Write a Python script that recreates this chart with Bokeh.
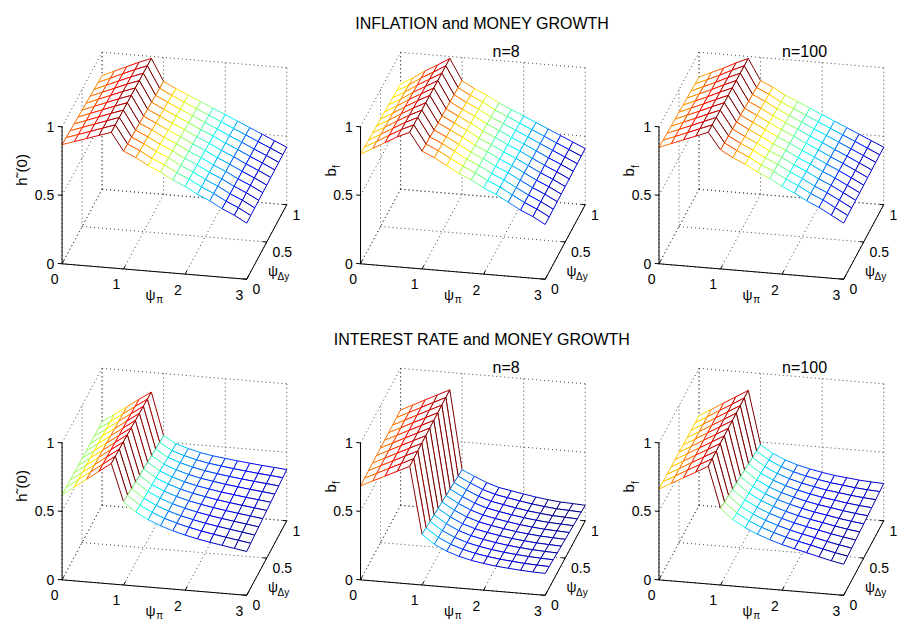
import numpy as np
from bokeh.plotting import figure
from bokeh.models import Range1d
from bokeh.core.properties import value
from bokeh.embed import file_html
from bokeh.resources import INLINE

# mesh grid
psi_pi = [0.0, 0.2, 0.4, 0.6, 0.8, 1.0, 1.2, 1.4, 1.6, 1.8, 2.0, 2.2, 2.4, 2.6, 2.8, 3.0]
psi_dy = [0.0, 0.1, 0.2, 0.3, 0.4, 0.5, 0.6, 0.7, 0.8, 0.9, 1.0]

# surface height along psi_pi, read at the front edge (psi_dy=0) and the back edge (psi_dy=1)
infl_h_front = [0.87, 0.90, 0.93, 0.96, 0.99, 0.86, 0.82, 0.77, 0.73, 0.68, 0.64, 0.59, 0.55, 0.50, 0.46, 0.41]
infl_h_back = [0.83, 0.87, 0.91, 0.95, 0.985, 0.825, 0.78, 0.74, 0.70, 0.66, 0.62, 0.58, 0.54, 0.50, 0.46, 0.42]
infl_n8_front = [0.80, 0.85, 0.90, 0.95, 0.99, 0.86, 0.82, 0.77, 0.72, 0.68, 0.63, 0.59, 0.54, 0.49, 0.45, 0.40]
infl_n8_back = [0.77, 0.82, 0.88, 0.93, 0.985, 0.83, 0.78, 0.74, 0.69, 0.65, 0.61, 0.57, 0.53, 0.49, 0.45, 0.41]
infl_n100_front = [0.85, 0.885, 0.92, 0.955, 0.99, 0.87, 0.82, 0.78, 0.73, 0.69, 0.64, 0.60, 0.55, 0.51, 0.46, 0.41]
infl_n100_back = [0.82, 0.86, 0.90, 0.945, 0.985, 0.83, 0.79, 0.74, 0.70, 0.66, 0.62, 0.58, 0.54, 0.50, 0.46, 0.42]

rate_h_front = [0.62, 0.685, 0.75, 0.815, 0.88, 0.607, 0.540, 0.492, 0.455, 0.426, 0.402, 0.382, 0.365, 0.350, 0.335, 0.320]
rate_h_back = [0.61, 0.672, 0.734, 0.796, 0.857, 0.545, 0.494, 0.467, 0.445, 0.429, 0.418, 0.407, 0.398, 0.389, 0.382, 0.374]
rate_n8_front = [0.686, 0.73, 0.773, 0.816, 0.859, 0.370, 0.305, 0.262, 0.232, 0.210, 0.195, 0.183, 0.175, 0.168, 0.163, 0.160]
rate_n8_back = [0.696, 0.74, 0.785, 0.829, 0.873, 0.297, 0.257, 0.218, 0.190, 0.174, 0.158, 0.143, 0.131, 0.122, 0.118, 0.113]
rate_n100_front = [0.663, 0.712, 0.761, 0.810, 0.859, 0.560, 0.484, 0.433, 0.393, 0.361, 0.333, 0.310, 0.289, 0.266, 0.245, 0.227]
rate_n100_back = [0.654, 0.708, 0.762, 0.815, 0.869, 0.479, 0.424, 0.384, 0.355, 0.333, 0.316, 0.301, 0.292, 0.282, 0.276, 0.272]

surfaces = [
    [(infl_h_front, infl_h_back), (infl_n8_front, infl_n8_back), (infl_n100_front, infl_n100_back)],
    [(rate_h_front, rate_h_back), (rate_n8_front, rate_n8_back), (rate_n100_front, rate_n100_back)],
]

row_titles = ["INFLATION and MONEY GROWTH", "INTEREST RATE and MONEY GROWTH"]
col_titles = ["", "n=8", "n=100"]
x_ticks = [0, 1, 2, 3]
x_tick_labels = ["0", "1", "2", "3"]
y_ticks = [0, 0.5, 1]
y_tick_labels = ["0", "0.5", "1"]
z_ticks = [0, 0.5, 1]
z_tick_labels = ["0", "0.5", "1"]

# screen projection of the 3D box (pixels per data unit)
EX = (63.0, 5.33)
EY = (41.0, -77.0)
EZ = (0.0, -141.5)
PAGE_H = 642
SCALE_X, SCALE_Y = 0.977, 0.968  # drawing squeezed a little so it fits 899x626
FONT = value("Liberation Sans")


def proj(o, x, y, z):
    px = o[0] + EX[0] * x + EY[0] * y + EZ[0] * z
    py = o[1] + EX[1] * x + EY[1] * y + EZ[1] * z
    return px, PAGE_H - py


def jet(t):
    k = min(max(int(t * 64), 0), 63)
    t = k / 63.0
    r = np.clip(1.5 - abs(4 * t - 3), 0, 1)
    g = np.clip(1.5 - abs(4 * t - 2), 0, 1)
    b = np.clip(1.5 - abs(4 * t - 1), 0, 1)
    return "#%02x%02x%02x" % (int(r * 255), int(g * 255), int(b * 255))


W, H = 899, 626
p = figure(width=W, height=H, x_range=Range1d(0, W / SCALE_X),
           y_range=Range1d(PAGE_H - H / SCALE_Y, PAGE_H),
           x_axis_type=None, y_axis_type=None, output_backend="svg", toolbar_location=None,
           min_border=0)
p.outline_line_color = None
p.grid.visible = False

grid_xs, grid_ys = [], []
axis_xs, axis_ys = [], []
texts = []  # (x, y, text, size, align, baseline, angle)


def seg(o, a, b, xs, ys):
    pa = proj(o, *a)
    pb = proj(o, *b)
    xs.append([pa[0], pb[0]])
    ys.append([pa[1], pb[1]])


x0, x1 = psi_pi[0], psi_pi[-1]
y0, y1 = psi_dy[0], psi_dy[-1]
z0, z1 = z_ticks[0], z_ticks[-1]

mesh_data = []
for r in range(2):
    for c in range(3):
        o = (63.0 + 305.5 * c, 272.0 + 326.5 * r)

        # dotted grid on the floor and the two back walls
        for t in x_ticks:
            seg(o, (t, y0, z0), (t, y1, z0), grid_xs, grid_ys)
            seg(o, (t, y1, z0), (t, y1, z1), grid_xs, grid_ys)
        for t in y_ticks:
            seg(o, (x0, t, z0), (x1, t, z0), grid_xs, grid_ys)
            seg(o, (x0, t, z0), (x0, t, z1), grid_xs, grid_ys)
        for t in z_ticks:
            seg(o, (x0, y1, t), (x1, y1, t), grid_xs, grid_ys)
            seg(o, (x0, y0, t), (x0, y1, t), grid_xs, grid_ys)

        # mesh, painted back to front
        front, back = surfaces[r][c]
        fa, ba, ya = np.array(front), np.array(back), np.array(psi_dy)
        Z = fa[None, :] + (ba - fa)[None, :] * ya[:, None]
        lo, hi = Z.min(), Z.max()
        qx, qy, qc = [], [], []
        for j in reversed(range(len(psi_dy) - 1)):
            for i in range(len(psi_pi) - 1):
                corners = [(i, j), (i + 1, j), (i + 1, j + 1), (i, j + 1)]
                pts = [proj(o, psi_pi[a], psi_dy[b], Z[b, a]) for a, b in corners]
                qx.append([q[0] for q in pts])
                qy.append([q[1] for q in pts])
                qc.append(jet((Z[j, i] - lo) / (hi - lo)))
        mesh_data.append((qx, qy, qc))

        # axes lines and ticks
        seg(o, (x0, y0, z0), (x1, y0, z0), axis_xs, axis_ys)
        seg(o, (x1, y0, z0), (x1, y1, z0), axis_xs, axis_ys)
        seg(o, (x0, y0, z0), (x0, y0, z1), axis_xs, axis_ys)
        for t, lab in zip(x_ticks, x_tick_labels):
            seg(o, (t, y0, z0), (t, y0 + 0.045, z0), axis_xs, axis_ys)
            px, py = proj(o, t, y0, z0)
            texts.append((px - 7.5, py - 16, lab, "14px", "center", "middle", 0))
        for t, lab in zip(y_ticks, y_tick_labels):
            seg(o, (x1, t, z0), (x1 - 0.065, t, z0), axis_xs, axis_ys)
            px, py = proj(o, x1, t, z0)
            texts.append((px + 6.0, py - 10.5, lab, "14px", "left", "middle", 0))
        for t, lab in zip(z_ticks, z_tick_labels):
            seg(o, (x0, y0, t), (x0 - 0.07, y0, t), axis_xs, axis_ys)
            px, py = proj(o, x0, y0, t)
            texts.append((px - 8, py, lab, "14px", "right", "middle", 0))

        ox, oy = o[0], PAGE_H - o[1]
        # axis labels
        texts.append((ox + 90.5, oy - 32, "ψ", "14px", "center", "middle", 0))
        texts.append((ox + 100, oy - 37, "π", "10px", "center", "middle", 0))
        texts.append((ox + 216, oy - 7, "ψ", "14px", "center", "middle", 0))
        texts.append((ox + 226.5, oy - 13, "Δy", "10px", "center", "middle", 0))
        if c == 0:
            texts.append((ox - 41, oy + 97, "h˜(0)", "15px", "center", "middle", np.pi / 2))
        else:
            texts.append((ox - 31, oy + 94.5, "b", "15px", "center", "middle", np.pi / 2))
            texts.append((ox - 24.5, oy + 100.5, "f", "10px", "center", "middle", np.pi / 2))
        if col_titles[c]:
            texts.append((517.5 + 305.5 * (c - 1), PAGE_H - (53 + 326.5 * r), col_titles[c],
                          "16px", "center", "alphabetic", 0))
    texts.append((493, PAGE_H - (24 + 326.5 * r), row_titles[r], "16px", "center", "alphabetic", 0))

p.multi_line(grid_xs, grid_ys, line_color="#444444", line_width=1, line_dash="1 3")

for qx, qy, qc in mesh_data:
    p.patches(qx, qy, fill_color="white", line_color=qc, line_width=1)

p.multi_line(axis_xs, axis_ys, line_color="black", line_width=1)

for tx, ty, tt, ts, ta, tb, ang in texts:
    p.text(x=[tx], y=[ty], text=[tt], text_font=FONT, text_font_size=value(ts),
           text_align=ta, text_baseline=tb, angle=ang, text_color="black")

open("out.html", "w").write(file_html(p, INLINE))
